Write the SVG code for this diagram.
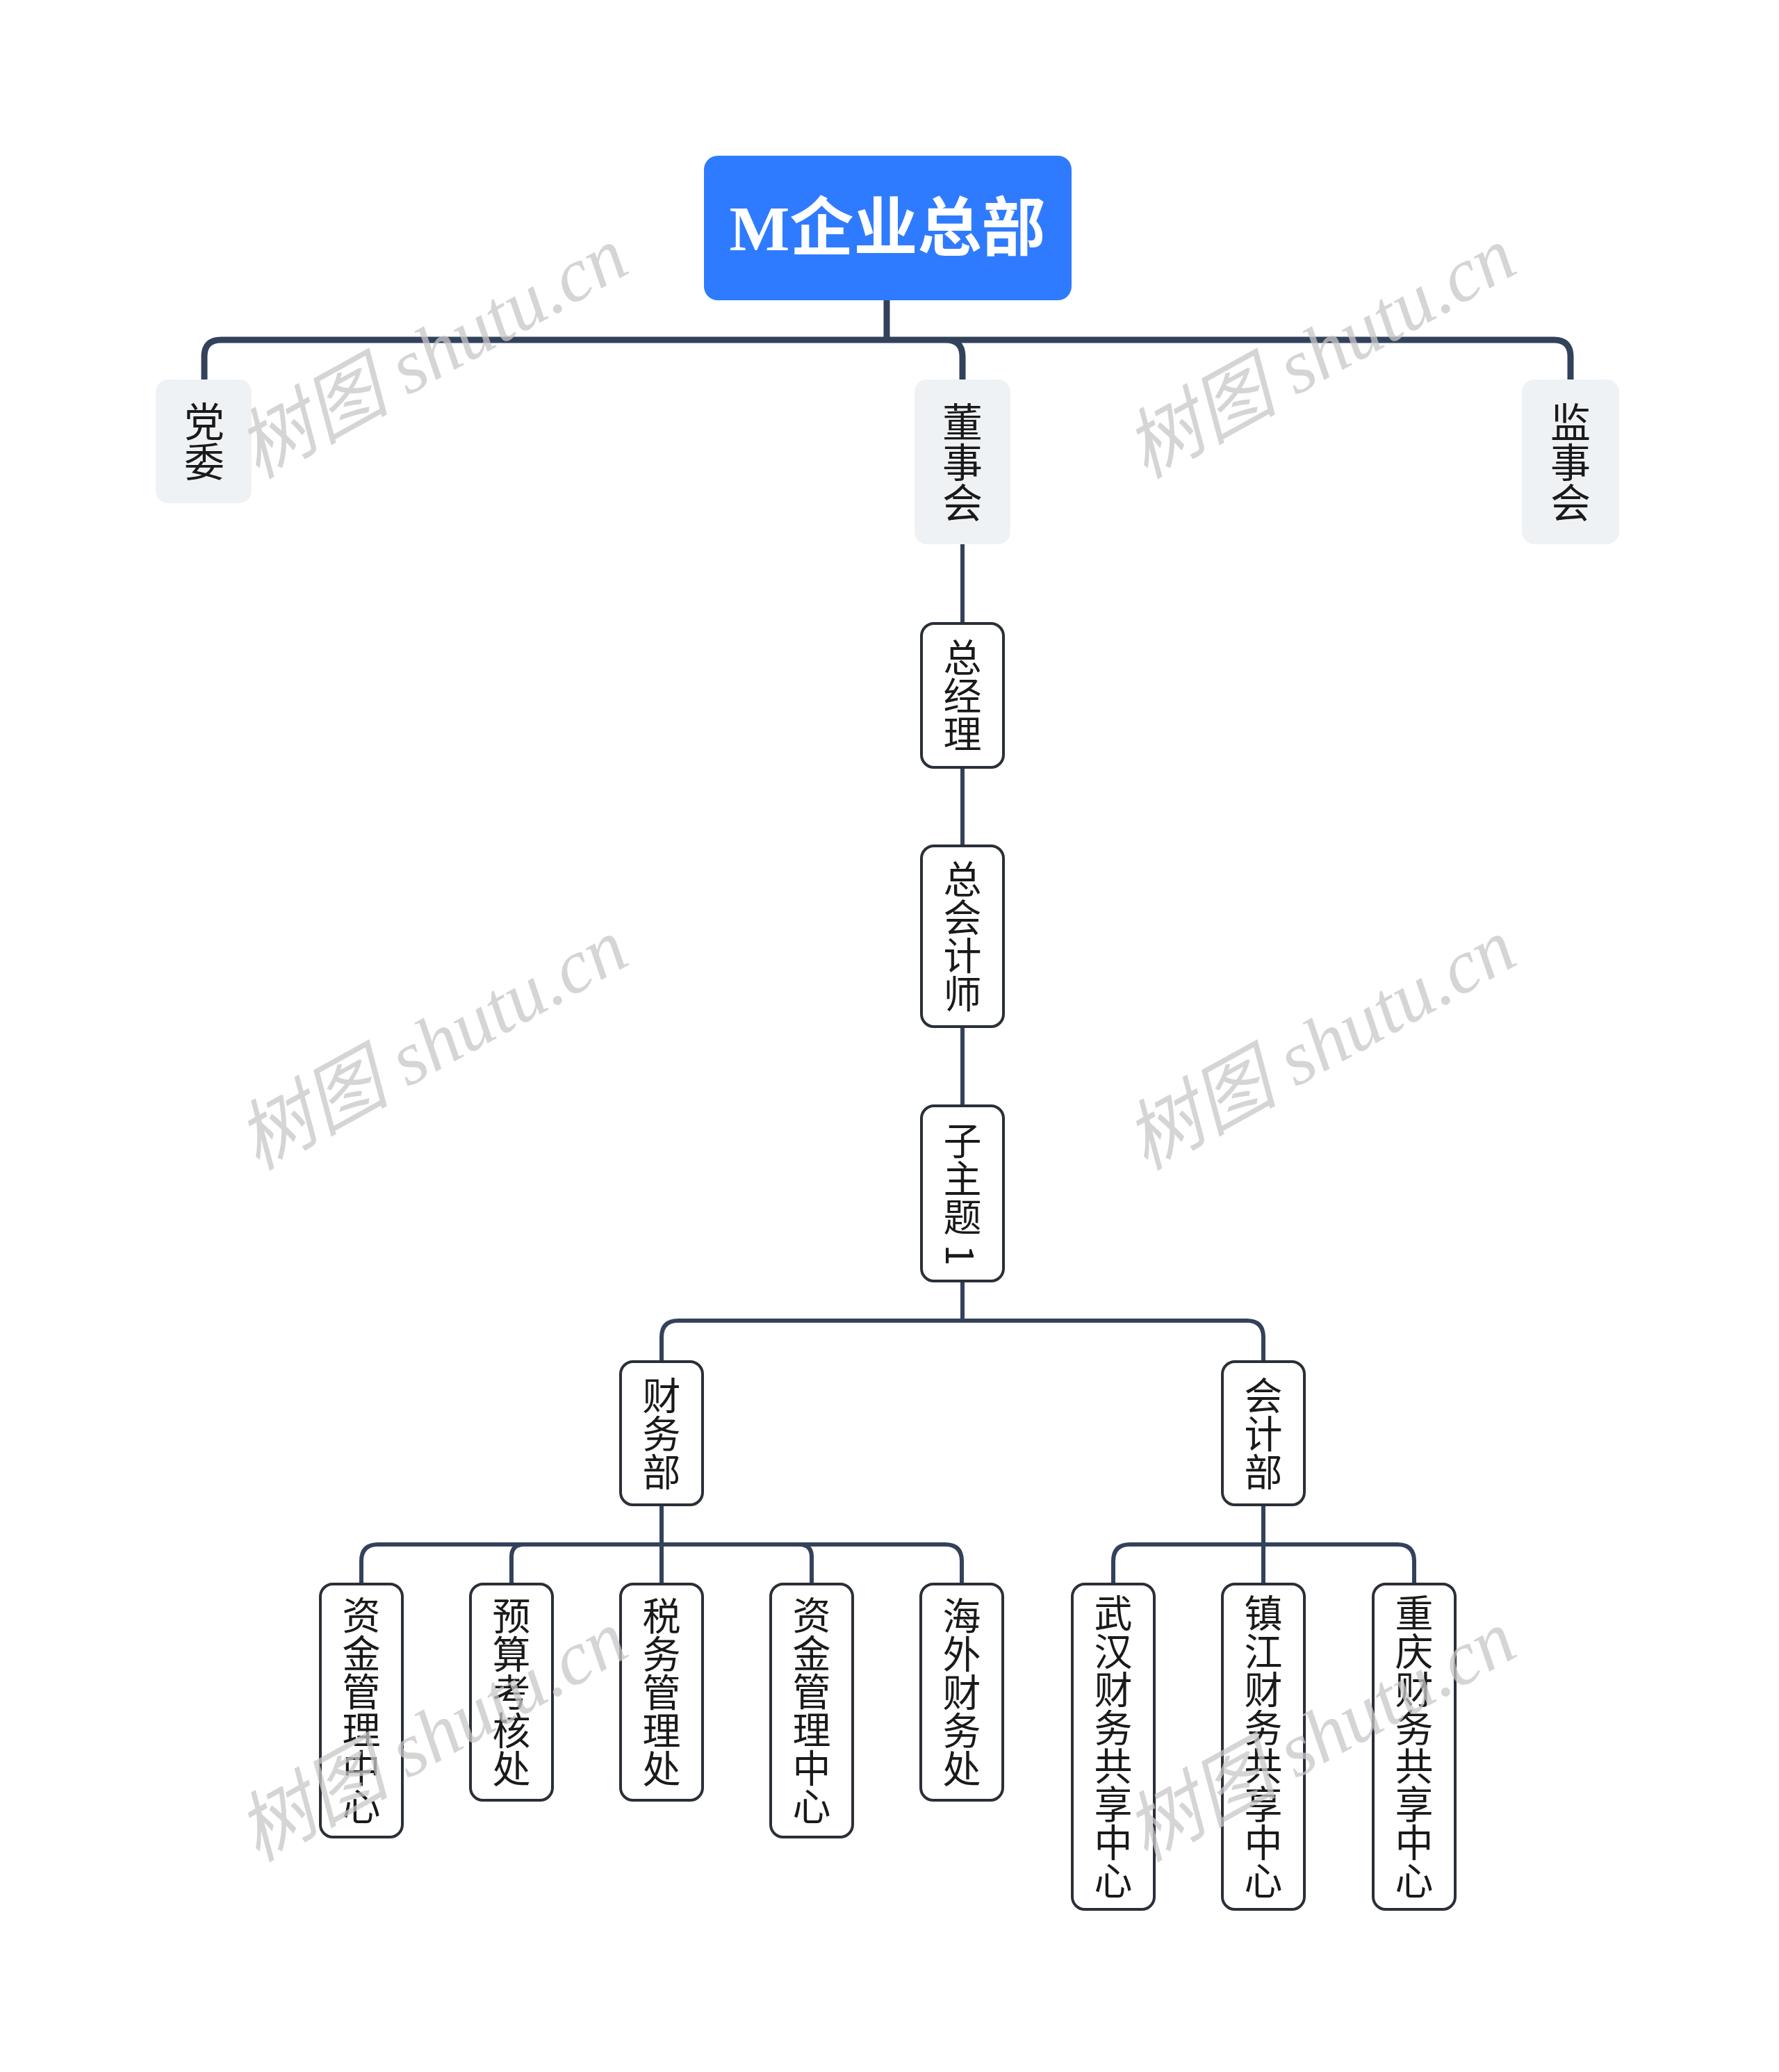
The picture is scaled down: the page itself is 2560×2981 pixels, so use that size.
<svg xmlns="http://www.w3.org/2000/svg" width="2560" height="2981" viewBox="0 0 2560 2981">
<style>
.c{fill:none;stroke:#33425b;stroke-linejoin:round;stroke-linecap:round}
.t1{stroke-width:9}.t2{stroke-width:6}
.top{fill:#eff2f5}
.box{fill:#fff;stroke:#2a2f38;stroke-width:4}
.v{font-family:"Noto Sans CJK SC","Noto Sans",sans-serif;fill:#1a1a1a;writing-mode:vertical-rl;text-anchor:middle}
.wm{font-family:"Liberation Serif","Noto Sans CJK SC",serif;font-style:italic;font-size:110px;fill:#c8c8c8;opacity:0.75}
</style>
<rect width="2560" height="2981" fill="#fff"/>
<g id="connectors">
<path class="c t1" d="M1276 432V489M294 546V513Q294 489 318 489H2236Q2260 489 2260 513V546M1361 489Q1385 489 1385 513V546"/>
<path class="c t2" d="M1385 783V897M1385 1104V1217M1385 1477V1591M1385 1843V1900M952 1959V1924Q952 1900 976 1900H1794Q1818 1900 1818 1924V1959"/>
<path class="c t2" d="M952 2165V2279M520 2279V2246Q520 2222 544 2222H1360Q1384 2222 1384 2246V2279M736 2279V2240Q736 2222 754 2222M1168 2279V2240Q1168 2222 1150 2222"/>
<path class="c t2" d="M1818 2165V2279M1602 2279V2246Q1602 2222 1626 2222H2011Q2035 2222 2035 2246V2279"/>
</g>
<g id="root"><rect x="1013" y="224" width="529" height="208" rx="20" fill="#2f7bff"/><text x="1277" y="360" text-anchor="middle" font-family="'Liberation Serif','Noto Sans CJK SC',serif" font-size="92" font-weight="bold" fill="#fff">M<tspan font-family="'Noto Sans CJK SC',sans-serif">企业总部</tspan></text></g>
<g id="n-dangwei"><rect class="top" x="224" y="546" width="138" height="178" rx="18"/><text class="v" x="294" y="635" font-size="58">党委</text></g>
<g id="n-dongshihui"><rect class="top" x="1316" y="546" width="138" height="237" rx="18"/><text class="v" x="1385" y="665" font-size="58">董事会</text></g>
<g id="n-jianshihui"><rect class="top" x="2190" y="546" width="140" height="237" rx="18"/><text class="v" x="2260" y="665" font-size="58">监事会</text></g>
<g id="n-zjl"><rect class="box" x="1326" y="897" width="118" height="207" rx="18"/><text class="v" x="1385" y="1000" font-size="55">总经理</text></g>
<g id="n-zkjs"><rect class="box" x="1326" y="1217" width="118" height="260" rx="18"/><text class="v" x="1385" y="1347" font-size="55">总会计师</text></g>
<g id="n-zzt"><rect class="box" x="1326" y="1591" width="118" height="252" rx="18"/><text class="v" x="1385" y="1717" font-size="55">子主题 1</text></g>
<g id="n-cwb"><rect class="box" x="893" y="1959" width="118" height="206" rx="18"/><text class="v" x="952" y="2062" font-size="55">财务部</text></g>
<g id="n-kjb"><rect class="box" x="1759" y="1959" width="118" height="206" rx="18"/><text class="v" x="1818" y="2062" font-size="55">会计部</text></g>
<g id="n-a1"><rect class="box" x="461" y="2279" width="118" height="364" rx="18"/><text class="v" x="520" y="2461" font-size="55">资金管理中心</text></g>
<g id="n-a2"><rect class="box" x="677" y="2279" width="118" height="311" rx="18"/><text class="v" x="736" y="2434" font-size="55">预算考核处</text></g>
<g id="n-a3"><rect class="box" x="893" y="2279" width="118" height="311" rx="18"/><text class="v" x="952" y="2434" font-size="55">税务管理处</text></g>
<g id="n-a4"><rect class="box" x="1109" y="2279" width="118" height="364" rx="18"/><text class="v" x="1168" y="2461" font-size="55">资金管理中心</text></g>
<g id="n-a5"><rect class="box" x="1325" y="2279" width="118" height="311" rx="18"/><text class="v" x="1384" y="2434" font-size="55">海外财务处</text></g>
<g id="n-b1"><rect class="box" x="1543" y="2279" width="118" height="468" rx="18"/><text class="v" x="1602" y="2513" font-size="55">武汉财务共享中心</text></g>
<g id="n-b2"><rect class="box" x="1759" y="2279" width="118" height="468" rx="18"/><text class="v" x="1818" y="2513" font-size="55">镇江财务共享中心</text></g>
<g id="n-b3"><rect class="box" x="1976" y="2279" width="118" height="468" rx="18"/><text class="v" x="2035" y="2513" font-size="55">重庆财务共享中心</text></g>
<g id="watermarks">
<text class="wm" transform="translate(640 540) rotate(-29)" text-anchor="middle">树图 shutu.cn</text>
<text class="wm" transform="translate(1918 540) rotate(-29)" text-anchor="middle">树图 shutu.cn</text>
<text class="wm" transform="translate(640 1535) rotate(-29)" text-anchor="middle">树图 shutu.cn</text>
<text class="wm" transform="translate(1918 1535) rotate(-29)" text-anchor="middle">树图 shutu.cn</text>
<text class="wm" transform="translate(640 2530) rotate(-29)" text-anchor="middle">树图 shutu.cn</text>
<text class="wm" transform="translate(1918 2530) rotate(-29)" text-anchor="middle">树图 shutu.cn</text>
</g>
</svg>
